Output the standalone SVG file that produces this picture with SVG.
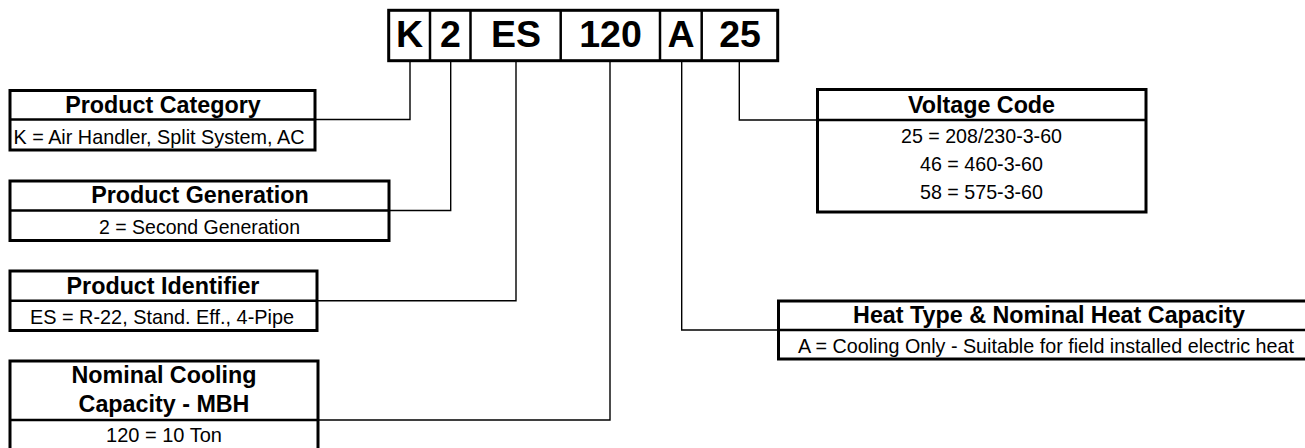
<svg xmlns="http://www.w3.org/2000/svg" width="1305" height="448" viewBox="0 0 1305 448">
<style>
.box{fill:#fff;stroke:#000;stroke-width:3}
.sep{stroke:#000;stroke-width:2.5}
.con{fill:none;stroke:#000;stroke-width:1.4}
.code{font-family:"Liberation Sans",Arial,sans-serif;font-weight:bold;font-size:37.5px;text-anchor:middle;fill:#000}
.t{font-family:"Liberation Sans",Arial,sans-serif;font-weight:bold;font-size:23.3px;text-anchor:middle;fill:#000}
.b{font-family:"Liberation Sans",Arial,sans-serif;font-size:21px;text-anchor:middle;fill:#000}
</style>
<rect width="1305" height="448" fill="#fff"/>
<g id="connectors">
<path class="con" d="M410 61V119.5H315"/>
<path class="con" d="M450.7 61V210.5H389"/>
<path class="con" d="M516 61V300.7H317"/>
<path class="con" d="M610 61V420H318"/>
<path class="con" d="M681.7 61V330H778.5"/>
<path class="con" d="M739.3 61V120H817.5"/>
</g>
<g id="model-code">
<rect class="box" x="388.7" y="10.3" width="389" height="50.4"/>
<line class="sep" x1="430" y1="10.3" x2="430" y2="60.7"/>
<line class="sep" x1="470.5" y1="10.3" x2="470.5" y2="60.7"/>
<line class="sep" x1="560.7" y1="10.3" x2="560.7" y2="60.7"/>
<line class="sep" x1="660" y1="10.3" x2="660" y2="60.7"/>
<line class="sep" x1="701.7" y1="10.3" x2="701.7" y2="60.7"/>
<text class="code" x="409.5" y="46.7">K</text>
<text class="code" x="450.5" y="46.7">2</text>
<text class="code" x="516" y="46.7">ES</text>
<text class="code" x="610.5" y="46.7">120</text>
<text class="code" x="681" y="46.7">A</text>
<text class="code" x="740" y="46.7">25</text>
</g>
<g id="product-category">
<rect class="box" x="10" y="90.5" width="305" height="59.5"/>
<line class="sep" x1="10" y1="119.5" x2="315" y2="119.5"/>
<text class="t" x="163" y="113.3">Product Category</text>
<text class="b" x="159" y="144.3" textLength="291" lengthAdjust="spacingAndGlyphs">K = Air Handler, Split System, AC</text>
</g>
<g id="product-generation">
<rect class="box" x="10" y="181" width="379" height="59.5"/>
<line class="sep" x1="10" y1="210.5" x2="389" y2="210.5"/>
<text class="t" x="200" y="203.3">Product Generation</text>
<text class="b" x="199.5" y="233.5" textLength="201" lengthAdjust="spacingAndGlyphs">2 = Second Generation</text>
</g>
<g id="product-identifier">
<rect class="box" x="10" y="271" width="307" height="59.5"/>
<line class="sep" x1="10" y1="300.7" x2="317" y2="300.7"/>
<text class="t" x="163" y="293.5">Product Identifier</text>
<text class="b" x="162" y="324.3" textLength="264" lengthAdjust="spacingAndGlyphs">ES = R-22, Stand. Eff., 4-Pipe</text>
</g>
<g id="nominal-cooling">
<rect class="box" x="10" y="361" width="308" height="90"/>
<line class="sep" x1="10" y1="420" x2="318" y2="420"/>
<text class="t" x="164" y="383.3">Nominal Cooling</text>
<text class="t" x="164" y="411.7">Capacity - MBH</text>
<text class="b" x="164" y="441.7" textLength="116" lengthAdjust="spacingAndGlyphs">120 = 10 Ton</text>
</g>
<g id="voltage-code">
<rect class="box" x="817.5" y="89.5" width="328.5" height="122.5"/>
<line class="sep" x1="817.5" y1="120" x2="1146" y2="120"/>
<text class="t" x="981.5" y="113.3">Voltage Code</text>
<text class="b" x="981.5" y="142.7" textLength="161" lengthAdjust="spacingAndGlyphs">25 = 208/230-3-60</text>
<text class="b" x="981.5" y="171" textLength="123" lengthAdjust="spacingAndGlyphs">46 = 460-3-60</text>
<text class="b" x="981.5" y="199.3" textLength="123" lengthAdjust="spacingAndGlyphs">58 = 575-3-60</text>
</g>
<g id="heat-type">
<rect class="box" x="778.5" y="301" width="542" height="58"/>
<line class="sep" x1="778.5" y1="330" x2="1320.5" y2="330"/>
<text class="t" x="1049" y="323">Heat Type &amp; Nominal Heat Capacity</text>
<text class="b" x="1046" y="353" textLength="496" lengthAdjust="spacingAndGlyphs">A = Cooling Only - Suitable for field installed electric heat</text>
</g>
</svg>
